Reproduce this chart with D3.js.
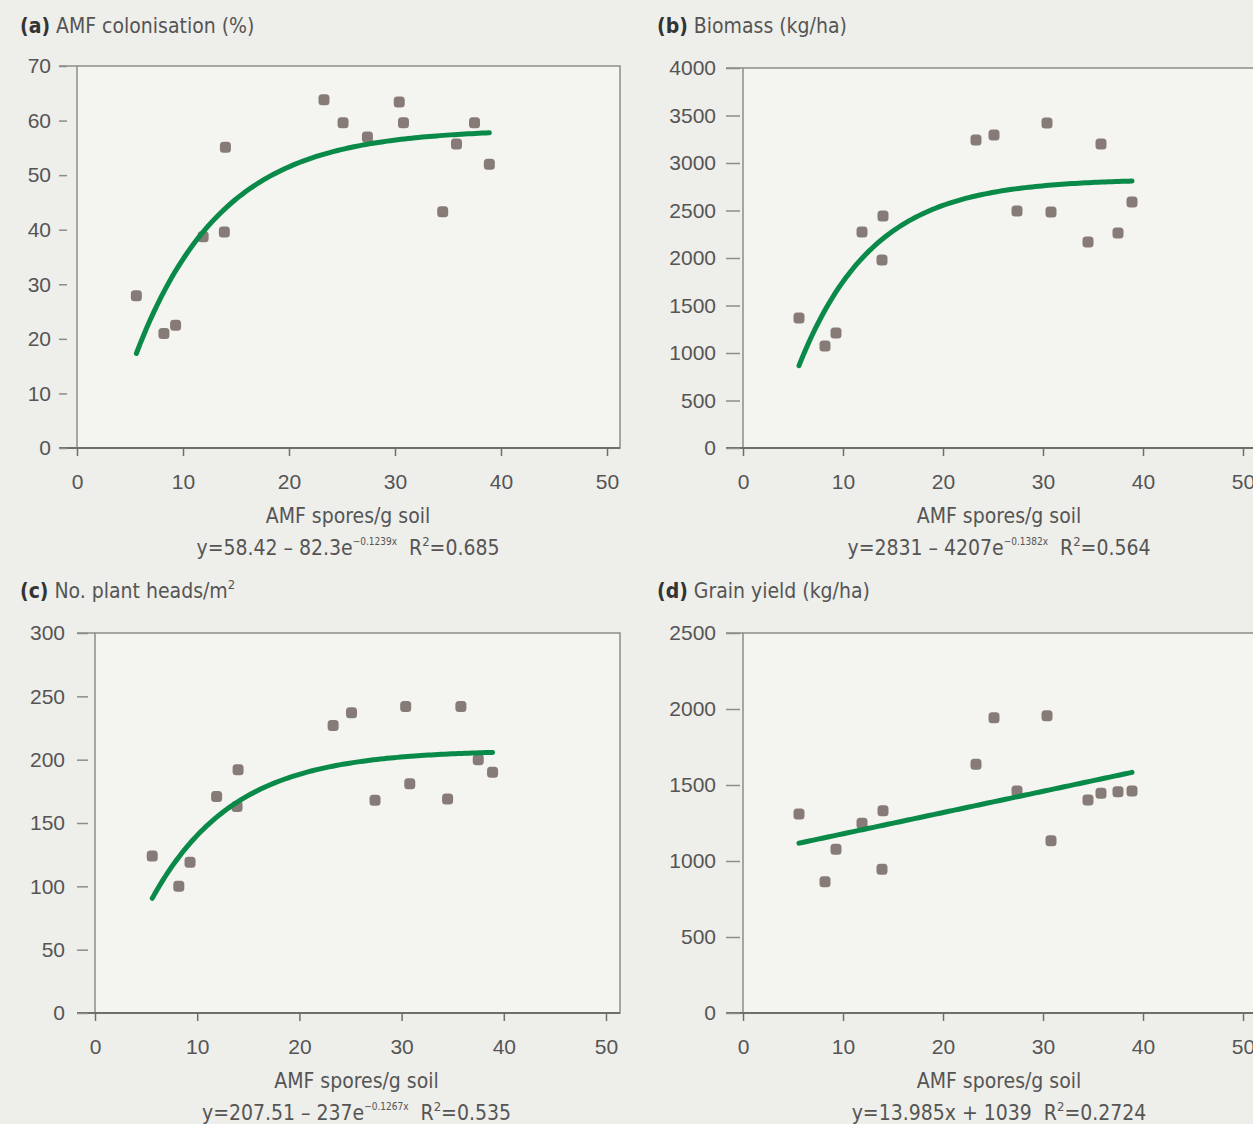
<!DOCTYPE html>
<html>
<head>
<meta charset="utf-8">
<script src="https://cdn.jsdelivr.net/npm/d3@7"></script>
<style>
  body { margin: 0; background: #eeeeea; }
  svg { display: block; font-family: "Liberation Sans Narrow", "DejaVu Sans Condensed", "Liberation Sans", sans-serif; }
  .tick text { fill: #555; }
</style>
</head>
<body>
<svg id="chart" width="1253" height="1124"></svg>
<script>
// AMF spores per g soil (shared by all four panels)
const spores = [5.6, 8.2, 9.3, 11.9, 13.9, 14.0, 23.3, 25.1, 27.4, 30.4, 30.8, 34.5, 35.8, 37.5, 38.9]

const colonisation = [27.9, 21.0, 22.5, 38.7, 39.6, 55.1, 63.8, 59.6, 57.0, 63.4, 59.6, 43.3, 55.7, 59.6, 52.0]
const biomass = [1368, 1074, 1210, 2274, 1979, 2442, 3242, 3295, 2495, 3421, 2484, 2168, 3200, 2263, 2589]
const heads = [124, 100, 119, 171, 163, 192, 227, 237, 168, 242, 181, 169, 242, 200, 190]
const grain = [1309, 864, 1077, 1248, 945, 1331, 1636, 1943, 1460, 1956, 1134, 1401, 1445, 1455, 1460]

// fitted models: y = a - b*exp(-k x)   /   y = m x + c
const fitColonisation = [58.42, 82.3, 0.124]
const fitBiomass = [2831, 4207, 0.136]
const fitHeads = [207.51, 237, 0.126]
const fitGrain = [13.985, 1039]

const xTicks = [0, 10, 20, 30, 40, 50]
const colTicks = [0, 10, 20, 30, 40, 50, 60, 70]
const biomassTicks = [0, 500, 1000, 1500, 2000, 2500, 3000, 3500, 4000]
const headsTicks = [0, 50, 100, 150, 200, 250, 300]
const grainTicks = [0, 500, 1000, 1500, 2000, 2500]

const titles = [['(a)', ' AMF colonisation (%)'], ['(b)', ' Biomass (kg/ha)'], ['(c)', ' No. plant heads/m'], ['(d)', ' Grain yield (kg/ha)']]
const equations = [
  ['y=58.42 \u2013 82.3e', '\u22120.1239x', '0.685'],
  ['y=2831 \u2013 4207e', '\u22120.1382x', '0.564'],
  ['y=207.51 \u2013 237e', '\u22120.1267x', '0.535'],
  ['y=13.985x + 1039', '', '0.2724']
]
const xTitle = 'AMF spores/g soil'

const svg = d3.select('#chart')

const panels = [
  {values: colonisation, ticks: colTicks, fit: fitColonisation, kind: 'exp',
   x0: 77, x50: 607, top: 66, bottom: 448, right: 620, gap: 10, tick: 8, pad: 8, titleX: 20, titleY: 33},
  {values: biomass, ticks: biomassTicks, fit: fitBiomass, kind: 'exp',
   x0: 743, x50: 1243, top: 68, bottom: 448, right: 1262, gap: 3, tick: 14, pad: 10, titleX: 657, titleY: 33},
  {values: heads, ticks: headsTicks, fit: fitHeads, kind: 'exp',
   x0: 95, x50: 606, top: 633, bottom: 1013, right: 620, gap: 7, tick: 11, pad: 12, titleX: 20, titleY: 598},
  {values: grain, ticks: grainTicks, fit: fitGrain, kind: 'lin',
   x0: 743, x50: 1243, top: 633, bottom: 1013, right: 1262, gap: 3, tick: 14, pad: 10, titleX: 657, titleY: 598}
]

panels.forEach((p, i) => {
  const g = svg.append('g')

  const x = d3.scaleLinear().domain([0, 50]).range([p.x0, p.x50])
  const y = d3.scaleLinear().domain([0, d3.max(p.ticks)]).range([p.bottom, p.top])

  // plot frame
  g.append('rect')
    .attr('x', p.x0).attr('y', p.top)
    .attr('width', p.right - p.x0).attr('height', p.bottom - p.top)
    .attr('fill', '#f4f4f1')
    .attr('stroke', '#8c8c88').attr('stroke-width', 1.5)

  const leftEnd = p.x0 - p.gap - p.tick
  g.append('line').attr('x1', leftEnd).attr('x2', p.x0).attr('y1', p.top).attr('y2', p.top)
    .attr('stroke', '#8c8c88').attr('stroke-width', 1.5)
  g.append('line').attr('x1', leftEnd).attr('x2', p.right).attr('y1', p.bottom).attr('y2', p.bottom)
    .attr('stroke', '#6e6e6a').attr('stroke-width', 1.8)

  // y axis (ticks sit a little left of the frame)
  g.append('g')
    .attr('transform', 'translate(' + (p.x0 - p.gap) + ',0)')
    .call(d3.axisLeft(y).tickValues(p.ticks).tickFormat(d3.format('d')).tickSize(p.tick).tickPadding(p.pad))
    .call(a => a.select('.domain').remove())
    .call(a => a.selectAll('.tick line').attr('stroke', '#8c8c88').attr('stroke-width', 1.5))
    .call(a => a.selectAll('.tick text').attr('font-size', 21).attr('font-family', null))

  // x axis
  g.append('g')
    .attr('transform', 'translate(0,' + p.bottom + ')')
    .call(d3.axisBottom(x).tickValues(xTicks).tickFormat(d3.format('d')).tickSize(8).tickPadding(18))
    .call(a => a.select('.domain').remove())
    .call(a => a.selectAll('.tick line').attr('stroke', '#6e6e6a').attr('stroke-width', 1.5))
    .call(a => a.selectAll('.tick text').attr('font-size', 21).attr('font-family', null))

  // fitted curve
  const xs = d3.range(0, 101).map(t => spores[0] + (d3.max(spores) - spores[0]) * t / 100)
  const model = p.kind === 'exp'
    ? v => p.fit[0] - p.fit[1] * Math.exp(-p.fit[2] * v)
    : v => p.fit[0] * v + p.fit[1]

  // points
  g.append('g')
    .attr('fill', '#877b78')
    .selectAll('rect')
    .data(p.values)
    .join('rect')
      .attr('x', (d, j) => x(spores[j]) - 5.5)
      .attr('y', d => y(d) - 5.5)
      .attr('width', 11).attr('height', 11)
      .attr('rx', 3.5)

  g.append('path')
    .datum(xs)
    .attr('fill', 'none')
    .attr('stroke', '#0a8a48')
    .attr('stroke-width', 5)
    .attr('stroke-linecap', 'round')
    .attr('d', d3.line().x(v => x(v)).y(v => y(model(v))))

  // panel title
  const t = g.append('text')
    .attr('x', p.titleX).attr('y', p.titleY)
    .attr('font-size', 21).attr('fill', '#555')
  t.append('tspan').attr('font-weight', 'bold').attr('fill', '#333').text(titles[i][0])
  t.append('tspan').text(titles[i][1])
  if (i === 2) t.append('tspan').attr('font-size', 13).attr('dy', -9).text('2')

  // axis title and equation
  const cx = (p.x0 + p.x50) / 2 + 6
  g.append('text')
    .attr('x', cx).attr('y', p.bottom + 75)
    .attr('text-anchor', 'middle')
    .attr('font-size', 21).attr('fill', '#555')
    .text(xTitle)

  const eq = g.append('text')
    .attr('x', cx).attr('y', p.bottom + 107)
    .attr('text-anchor', 'middle')
    .attr('font-size', 21).attr('fill', '#555')
  eq.append('tspan').text(equations[i][0])
  if (equations[i][1]) eq.append('tspan').attr('font-size', 10).attr('dy', -10).text(equations[i][1])
  eq.append('tspan').attr('dy', equations[i][1] ? 10 : 0).attr('dx', 12).text('R')
  eq.append('tspan').attr('font-size', 13).attr('dy', -9).text('2')
  eq.append('tspan').attr('dy', 9).text('=' + equations[i][2])
})
</script>
</body>
</html>
